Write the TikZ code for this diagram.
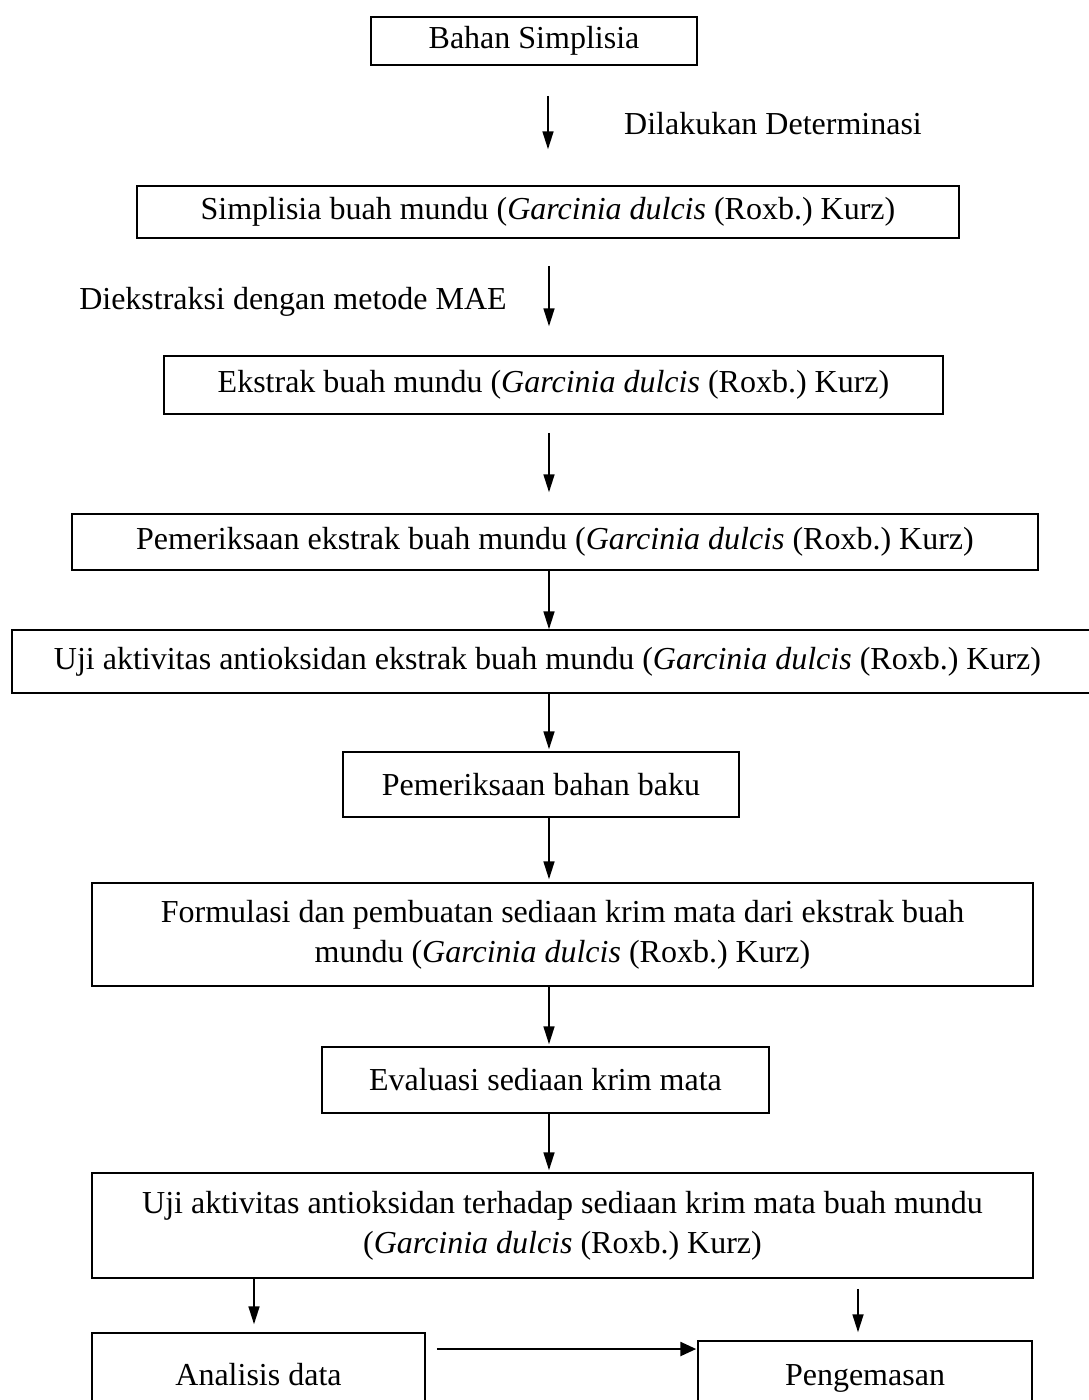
\documentclass[tikz,border=0pt]{standalone}
\usepackage{fontspec}
\setmainfont{Liberation Serif}
\usetikzlibrary{arrows.meta}
\frenchspacing
\begin{document}
\begin{tikzpicture}[x=1pt,y=-1pt,
  box/.style={draw,line width=1.5pt,inner sep=0pt,align=center,
    font=\fontsize{32}{40}\selectfont},
  lbl/.style={inner sep=0pt,font=\fontsize{32}{40}\selectfont},
  arr/.style={line width=1.7pt,-{Triangle[length=18pt,width=11pt]}}]
\fill[white] (0,0) rectangle (1088,1400);
\useasboundingbox (0,0) rectangle (1088,1400);
\node[box,minimum width=326pt,minimum height=48pt] (b1) at (534,41) {Bahan Simplisia};
\node[box,minimum width=822pt,minimum height=52pt] (b2) at (548,212) {Simplisia buah mundu (\textit{Garcinia dulcis} (Roxb.) Kurz)};
\node[box,minimum width=779pt,minimum height=58pt] (b3) at (553.5,385) {Ekstrak buah mundu (\textit{Garcinia dulcis} (Roxb.) Kurz)};
\node[box,minimum width=966pt,minimum height=56pt] (b4) at (555,542) {Pemeriksaan ekstrak buah mundu (\textit{Garcinia dulcis} (Roxb.) Kurz)};
\node[box,minimum width=1083pt,minimum height=63pt] (b5) at (553.5,661.5) {\hspace*{-12pt}Uji aktivitas antioksidan ekstrak buah mundu (\textit{Garcinia dulcis} (Roxb.) Kurz)};
\node[box,minimum width=396pt,minimum height=65pt] (b6) at (541,784.5) {Pemeriksaan bahan baku};
\node[box,minimum width=941pt,minimum height=103pt] (b7) at (562.5,934.5) {Formulasi dan pembuatan sediaan krim mata dari ekstrak buah\\mundu (\textit{Garcinia dulcis} (Roxb.) Kurz)};
\node[box,minimum width=447pt,minimum height=66pt] (b8) at (545.5,1080) {Evaluasi sediaan krim mata};
\node[box,minimum width=941pt,minimum height=105pt] (b9) at (562.5,1225.5) {Uji aktivitas antioksidan terhadap sediaan krim mata buah mundu\\(\textit{Garcinia dulcis} (Roxb.) Kurz)};
\node[box,minimum width=333pt,minimum height=84pt] (b10) at (258.5,1375) {Analisis data};
\node[box,minimum width=334pt,minimum height=74pt] (b11) at (865,1378) {Pengemasan};
\node[lbl] (l1) at (773,124) {Dilakukan Determinasi};
\node[lbl] (l2) at (293,302) {Diekstraksi dengan metode MAE};
\draw[arr,shorten <=30pt,shorten >=36pt] ([xshift=14pt]b1.south) -- ([xshift=0pt]b2.north);
\draw[arr,shorten <=27pt,shorten >=29pt] ([xshift=1pt]b2.south) -- ([xshift=-4.5pt]b3.north);
\draw[arr,shorten <=18pt,shorten >=21pt] ([xshift=-4.5pt]b3.south) -- ([xshift=-6pt]b4.north);
\draw[arr] ([xshift=-6pt]b4.south) -- ([xshift=-4.5pt]b5.north);
\draw[arr,shorten >=2pt] ([xshift=-4.5pt]b5.south) -- ([xshift=8pt]b6.north);
\draw[arr,shorten >=3pt] ([xshift=8pt]b6.south) -- ([xshift=-13.5pt]b7.north);
\draw[arr,shorten >=2pt] ([xshift=-13.5pt]b7.south) -- ([xshift=3.5pt]b8.north);
\draw[arr,shorten >=2pt] ([xshift=3.5pt]b8.south) -- ([xshift=-13.5pt]b9.north);
\draw[arr,shorten >=8pt] ([xshift=-308.5pt]b9.south) -- ([xshift=-4.5pt]b10.north);
\draw[arr,shorten <=10pt,shorten >=8pt] ([xshift=295.5pt]b9.south) -- ([xshift=-7pt]b11.north);
\draw[line width=2.6pt,-{Triangle[length=16pt,width=14pt]},shorten <=11pt,shorten >=1pt] ([yshift=26pt]b10.east) -- ([yshift=29pt]b11.west);
\end{tikzpicture}
\end{document}
